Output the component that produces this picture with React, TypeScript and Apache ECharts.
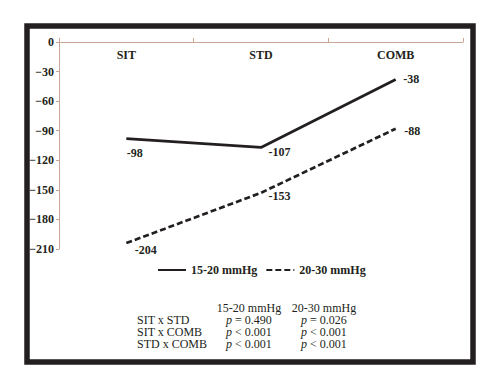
import React, { useEffect, useRef } from "react";
import * as echarts from "echarts";

const categories = ["SIT", "STD", "COMB"];
const seriesNames = ["15-20 mmHg", "20-30 mmHg"];
const values1520 = [-98, -107, -38];
const values2030 = [-204, -153, -88];
const labelOffsets1520: [number, number][] = [[0, 14], [7, 5], [7, 0]];
const labelOffsets2030: [number, number][] = [[8, 7], [7, 3], [8, 2]];
const tableHeader = ["15-20 mmHg", "20-30 mmHg"];
const tableRows = ["SIT x STD", "SIT x COMB", "STD x COMB"];
const tableP1520 = ["= 0.490", "< 0.001", "< 0.001"];
const tableP2030 = ["= 0.026", "< 0.001", "< 0.001"];

const INK = "#231f20";
const SERIF = "'Liberation Serif', 'DejaVu Serif', serif";

export default function App() {
  const ref = useRef<HTMLDivElement>(null);
  useEffect(() => {
    if (!ref.current) return;
    const chart = echarts.init(ref.current, undefined, { renderer: "svg" });
    const mkData = (vals: number[], offs: [number, number][]) =>
      vals.map((v, i) => ({
        value: v,
        label: { offset: offs[i] },
      }));
    const seriesBase = (name: string, vals: number[], offs: [number, number][], dashed: boolean) => ({
      name,
      type: "line",
      data: mkData(vals, offs),
      symbol: "circle",
      symbolSize: 1,
      showSymbol: true,
      itemStyle: { color: "rgba(0,0,0,0)", borderWidth: 0 },
      lineStyle: { color: INK, width: 2.7, type: dashed ? [6, 3] : "solid" },
      label: {
        show: true,
        position: "right",
        distance: 0,
        color: INK,
        fontFamily: SERIF,
        fontWeight: "bold",
        fontSize: 12,
        formatter: (p: any) => String(p.value),
      },
      emphasis: { disabled: true },
    });

    const graphics: any[] = [
      {
        type: "rect",
        shape: { x: 27, y: 26, width: 446, height: 336 },
        style: { fill: "none", stroke: INK, lineWidth: 5.5 },
        silent: true,
      },
    ];
    const headerY = 308;
    const rowY = [320, 332, 344];
    const txt = (x: number, y: number, text: string, align: string, italic = false) => ({
      type: "text",
      x,
      y,
      style: {
        text,
        align,
        verticalAlign: "middle",
        fill: INK,
        fontFamily: SERIF,
        fontSize: 12,
        fontStyle: italic ? "italic" : "normal",
        lineHeight: 11,
      },
      silent: true,
    });
    graphics.push(txt(249, headerY, tableHeader[0], "center"));
    graphics.push(txt(324, headerY, tableHeader[1], "center"));
    tableRows.forEach((r, i) => {
      graphics.push(txt(137, rowY[i], r, "left"));
      graphics.push(txt(226, rowY[i], "p", "left", true));
      graphics.push(txt(235, rowY[i], tableP1520[i], "left"));
      graphics.push(txt(301, rowY[i], "p", "left", true));
      graphics.push(txt(310, rowY[i], tableP2030[i], "left"));
    });

    chart.setOption({
      animation: false,
      backgroundColor: "#ffffff",
      grid: { left: 59, right: 37, top: 42, bottom: 140 },
      legend: {
        left: 157,
        top: 264,
        padding: 0,
        itemWidth: 28,
        itemHeight: 12,
        itemGap: 8,
        textStyle: { color: INK, fontFamily: SERIF, fontWeight: "bold", fontSize: 12 },
        data: seriesNames,
      },
      xAxis: {
        type: "category",
        position: "top",
        data: categories,
        boundaryGap: true,
        axisLine: { show: true, lineStyle: { color: "#c9a596", width: 1 } },
        axisTick: { show: true, length: 4, lineStyle: { color: "#c9a596" } },
        axisLabel: {
          inside: true,
          margin: 7,
          color: INK,
          fontFamily: SERIF,
          fontWeight: "bold",
          fontSize: 12,
        },
        splitLine: { show: false },
      },
      yAxis: {
        type: "value",
        min: -210,
        max: 0,
        interval: 30,
        axisLine: { show: true, lineStyle: { color: "#c9a596", width: 1 } },
        axisTick: { show: true, length: 3, lineStyle: { color: "#c9a596" } },
        axisLabel: {
          margin: 5,
          color: INK,
          fontFamily: SERIF,
          fontWeight: "bold",
          fontSize: 12,
          formatter: (v: number) => (v < 0 ? "\u2212" + Math.abs(v) : String(v)),
        },
        splitLine: { show: false },
      },
      series: [
        seriesBase(seriesNames[0], values1520, labelOffsets1520, false),
        seriesBase(seriesNames[1], values2030, labelOffsets2030, true),
      ],
      graphic: graphics,
    });
    return () => chart.dispose();
  }, []);
  return <div ref={ref} style={{ width: 500, height: 389, position: "absolute", left: 0, top: 0 }} />;
}
